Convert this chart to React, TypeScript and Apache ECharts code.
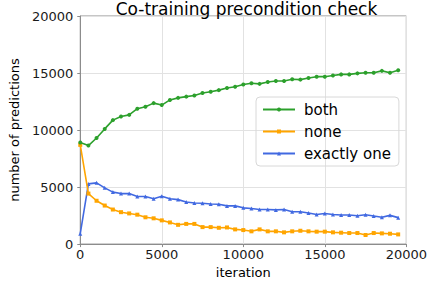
import React, { useEffect, useRef } from "react";
import * as echarts from "echarts";

const iterations = [
  0, 500, 1000, 1500, 2000, 2500, 3000, 3500, 4000, 4500,
  5000, 5500, 6000, 6500, 7000, 7500, 8000, 8500, 9000, 9500,
  10000, 10500, 11000, 11500, 12000, 12500, 13000, 13500, 14000, 14500,
  15000, 15500, 16000, 16500, 17000, 17500, 18000, 18500, 19000, 19500,
];

const both = [
  8900, 8640, 9300, 10100, 10870, 11190, 11330, 11870, 12050, 12360,
  12190, 12640, 12820, 12930, 13030, 13250, 13360, 13500, 13680, 13790,
  13990, 14100, 14050, 14220, 14300, 14300, 14450, 14420, 14560, 14680,
  14680, 14790, 14880, 14880, 14970, 15020, 15020, 15190, 15020, 15250,
];

const none = [
  8700, 4430, 3800, 3380, 3030, 2800, 2690, 2580, 2350, 2260,
  2080, 1900, 1690, 1770, 1770, 1490, 1490, 1430, 1460, 1290,
  1230, 1120, 1290, 1120, 1120, 1030, 1120, 1170, 1120, 1090,
  1090, 1030, 1000, 970, 970, 800, 970, 940, 910, 850,
];

const exactlyOne = [
  915, 5280, 5370, 4930, 4560, 4430, 4430, 4180, 4180, 3980,
  4190, 3980, 3900, 3690, 3600, 3580, 3520, 3490, 3350, 3350,
  3180, 3120, 3030, 3030, 3000, 3030, 2830, 2830, 2720, 2600,
  2690, 2600, 2550, 2550, 2490, 2580, 2460, 2350, 2520, 2320,
];

const seriesNames = ["both", "none", "exactly one"];
const seriesColors = ["#2ca02c", "#ffa500", "#4169e1"];
const seriesSymbols = ["circle", "rect", "triangle"];
const yTicks = [0, 5000, 10000, 15000, 20000];

const FONT = "DejaVu Sans";

export default function App() {
  const ref = useRef<HTMLDivElement>(null);
  useEffect(() => {
    if (!ref.current) return;
    const chart = echarts.init(ref.current, undefined, { renderer: "svg" });
    const data = [both, none, exactlyOne];
    const plain = (v: number) => String(v);
    chart.setOption({
      animation: false,
      backgroundColor: "#ffffff",
      textStyle: { fontFamily: FONT },
      title: {
        text: "Co-training precondition check",
        left: 241.5,
        textAlign: "center",
        top: -5,
        textStyle: { fontFamily: FONT, fontSize: 17, fontWeight: "normal", color: "#000" },
      },
      grid: {
        left: 76,
        right: 23,
        top: 16,
        bottom: 35,
        show: true,
        borderColor: "#8c8c8c",
        borderWidth: 1,
        containLabel: false,
      },
      legend: {
        orient: "vertical",
        left: 256,
        top: 97,
        data: seriesNames,
        itemWidth: 32,
        itemHeight: 5,
        itemGap: 7,
        padding: [5, 8, 5, 6],
        borderColor: "#d8d8d8",
        borderWidth: 1,
        borderRadius: 4,
        textStyle: { fontFamily: FONT, fontSize: 15, color: "#000", padding: [0, 0, 0, 4] },
      },
      xAxis: {
        type: "value",
        min: 0,
        max: 20000,
        interval: 5000,
        name: "iteration",
        nameLocation: "middle",
        nameGap: 17,
        nameTextStyle: { fontFamily: FONT, fontSize: 13, color: "#000" },
        axisLine: { show: true, lineStyle: { color: "#8c8c8c" } },
        axisTick: { show: true, length: 3, lineStyle: { color: "#8c8c8c" } },
        axisLabel: { fontFamily: FONT, fontSize: 13, color: "#1a1a1a", margin: 4, formatter: plain },
        splitLine: { show: true, lineStyle: { color: "#e2e2e2", width: 1 } },
      },
      yAxis: {
        type: "value",
        min: yTicks[0],
        max: yTicks[yTicks.length - 1],
        interval: 5000,
        name: "number of predictions",
        nameLocation: "middle",
        nameGap: 49,
        nameTextStyle: { fontFamily: FONT, fontSize: 13, color: "#000" },
        axisLine: { show: true, lineStyle: { color: "#8c8c8c" } },
        axisTick: { show: true, length: 3, lineStyle: { color: "#8c8c8c" } },
        axisLabel: { fontFamily: FONT, fontSize: 13, color: "#1a1a1a", margin: 7, formatter: plain },
        splitLine: { show: true, lineStyle: { color: "#e2e2e2", width: 1 } },
      },
      series: seriesNames.map((name, i) => ({
        name,
        type: "line",
        data: iterations.map((x, j) => [x, data[i][j]]),
        symbol: seriesSymbols[i],
        symbolSize: 4,
        showSymbol: true,
        lineStyle: { color: seriesColors[i], width: 1.6 },
        itemStyle: { color: seriesColors[i] },
        z: 3 - i,
      })),
    });
    return () => chart.dispose();
  }, []);
  return (
    <div
      ref={ref}
      style={{ position: "absolute", left: 0, top: 0, width: 430, height: 284 }}
    />
  );
}
